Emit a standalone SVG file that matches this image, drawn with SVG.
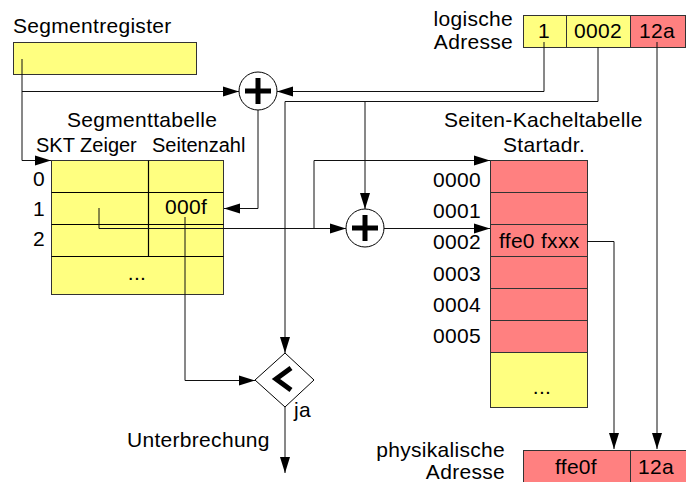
<svg xmlns="http://www.w3.org/2000/svg" width="686" height="482" viewBox="0 0 686 482">
  <style>
    text { font-family: "Liberation Sans", Arial, sans-serif; font-size: 21px; letter-spacing: 0.3px; fill: #000; }
    .hdr { font-size: 20px; letter-spacing: 0; }
    .mid { text-anchor: middle; }
    .end { text-anchor: end; }
    .yel { fill: #ffff80; stroke: #333; stroke-width: 1; }
    .red { fill: #ff8080; stroke: #333; stroke-width: 1; }
    .grid { stroke: #000; stroke-width: 1.2; fill: none; }
    .wire { stroke: #111; stroke-width: 1; fill: none; }
    .arr { marker-end: url(#ah); }
    .op { fill: #fff; stroke: #000; stroke-width: 1; }
    .sym { stroke: #000; stroke-width: 5; fill: none; }
  </style>
  <defs>
    <marker id="ah" markerWidth="16" markerHeight="12" refX="16" refY="6" orient="auto" markerUnits="userSpaceOnUse">
      <path d="M0,1 L16,6 L0,11 Z" fill="#000"/>
    </marker>
  </defs>

  <!-- segment register -->
  <g id="segmentregister">
    <text x="13" y="33">Segmentregister</text>
    <rect class="yel" x="13.5" y="42.5" width="183" height="32"/>
  </g>

  <!-- logical address -->
  <g id="logische-adresse">
    <text class="end" x="513" y="26">logische</text>
    <text class="end" x="513" y="49">Adresse</text>
    <rect class="yel" x="523.5" y="15.5" width="43" height="32"/>
    <rect class="yel" x="566.5" y="15.5" width="64" height="32"/>
    <rect class="red" x="630.5" y="15.5" width="55" height="32"/>
    <text class="mid" x="544" y="38">1</text>
    <text class="mid" x="598" y="38">0002</text>
    <text class="mid" x="657" y="38">12a</text>
  </g>

  <!-- segment table -->
  <g id="segmenttabelle">
    <text x="67" y="127">Segmenttabelle</text>
    <text class="hdr" x="36" y="152">SKT Zeiger</text>
    <text class="hdr" x="152" y="152">Seitenzahl</text>
    <rect class="yel" x="51.5" y="160.5" width="172" height="134"/>
    <path class="grid" d="M148.5,160.5 V256.5 M51.5,192.5 H223.5 M51.5,224.5 H223.5 M51.5,256.5 H223.5"/>
    <text x="33" y="186">0</text>
    <text x="33" y="216">1</text>
    <text x="33" y="246">2</text>
    <text x="165" y="214">000f</text>
    <text class="mid" x="137" y="280">...</text>
  </g>

  <!-- page frame table -->
  <g id="seiten-kacheltabelle">
    <text x="444" y="127">Seiten-Kacheltabelle</text>
    <text x="503" y="152">Startadr.</text>
    <rect class="red" x="490.5" y="160.5" width="97" height="32"/>
    <rect class="red" x="490.5" y="192.5" width="97" height="32"/>
    <rect class="red" x="490.5" y="224.5" width="97" height="32"/>
    <rect class="red" x="490.5" y="256.5" width="97" height="32"/>
    <rect class="red" x="490.5" y="288.5" width="97" height="32"/>
    <rect class="red" x="490.5" y="320.5" width="97" height="32"/>
    <rect class="yel" x="490.5" y="352.5" width="97" height="55"/>
    <text class="end" x="481" y="187">0000</text>
    <text class="end" x="481" y="218">0001</text>
    <text class="end" x="481" y="249">0002</text>
    <text class="end" x="481" y="281">0003</text>
    <text class="end" x="481" y="312">0004</text>
    <text class="end" x="481" y="343">0005</text>
    <text x="499" y="248">ffe0 fxxx</text>
    <text class="mid" x="542" y="394">...</text>
  </g>

  <!-- adders -->
  <g id="addierer-1">
    <circle class="op" cx="258" cy="91" r="19"/>
    <path class="sym" d="M245,91 H271 M258,78 V104"/>
  </g>
  <g id="addierer-2">
    <circle class="op" cx="365" cy="228" r="19"/>
    <path class="sym" d="M352,228 H378 M365,215 V241"/>
  </g>

  <!-- comparison -->
  <g id="vergleich">
    <path class="op" d="M285,353 L314,380 L285,407 L255,380 Z"/>
    <path class="sym" d="M291,368 L276,379 L291,390"/>
    <text x="294" y="417">ja</text>
    <text x="127" y="447">Unterbrechung</text>
  </g>

  <!-- physical address -->
  <g id="physikalische-adresse">
    <text class="end" x="505" y="457">physikalische</text>
    <text class="end" x="505" y="479">Adresse</text>
    <rect class="red" x="523.5" y="450.5" width="107" height="40"/>
    <rect class="red" x="630.5" y="450.5" width="60" height="40"/>
    <text class="mid" x="576" y="474">ffe0f</text>
    <text class="mid" x="656" y="474">12a</text>
  </g>

  <!-- connectors -->
  <g id="verbindungen">
    <path class="wire arr" d="M22,59 V160.5 H51"/>
    <path class="wire arr" d="M22,91.5 H239"/>
    <path class="wire arr" d="M544,42 V91.5 H277"/>
    <path class="wire arr" d="M258,110 V208.5 H224"/>
    <path class="wire arr" d="M598,47 V101.5 H285 V353"/>
    <path class="wire arr" d="M365,101.5 V209"/>
    <path class="wire arr" d="M99,208 V228.5 H346"/>
    <path class="wire arr" d="M314,228.5 V160.5 H490"/>
    <path class="wire arr" d="M384,228.5 H490"/>
    <path class="wire arr" d="M185,217 V380.5 H255"/>
    <path class="wire arr" d="M285,407 V473"/>
    <path class="wire arr" d="M587,241.5 H614 V449"/>
    <path class="wire arr" d="M657,42 V449"/>
  </g>
</svg>
